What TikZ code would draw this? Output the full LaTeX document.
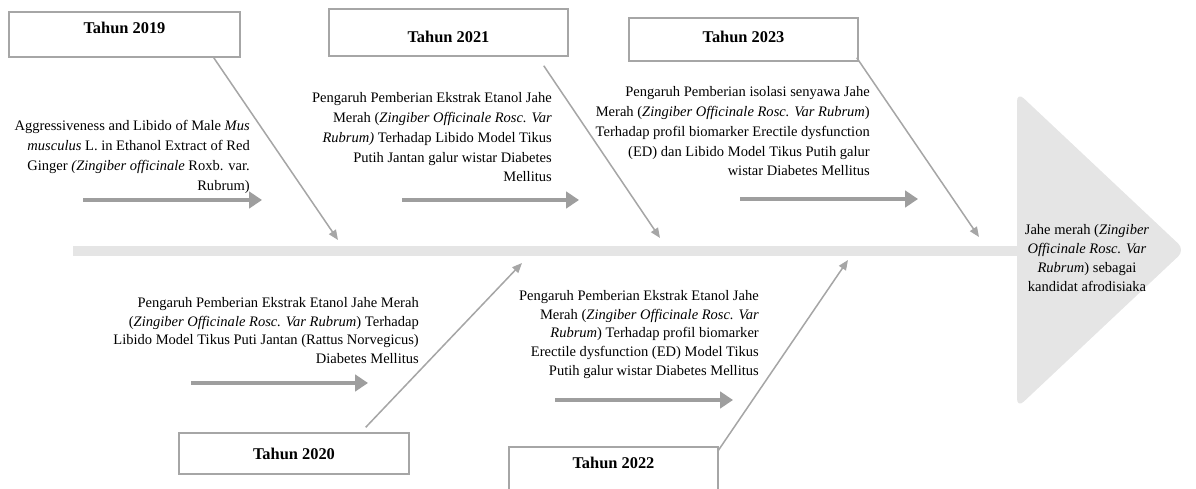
\documentclass[tikz,border=0pt]{standalone}
\usepackage{fontspec}
\setmainfont{Liberation Serif}
\usetikzlibrary{arrows.meta, calc}

\begin{document}
\begin{tikzpicture}[x=0.03cm, y=-0.03cm,
    every node/.style={font=\fontsize{12.4}{16}\selectfont},
    yearbox/.style 2 args={draw=black!35, line width=1.2pt, fill=white,
      minimum width=#1cm, minimum height=#2cm, inner sep=0pt,
      font=\fontsize{14}{16}\selectfont\bfseries},
    note/.style={align=right, anchor=north east, inner sep=0pt},
    wide/.style={font=\fontsize{12.4}{17}\selectfont},
    bone/.style={draw=black!35, line width=1.3pt,
      -{Triangle[length=8.5pt,width=7pt]}},
    flow/.style={draw=black!38, line width=4.2pt,
      -{Triangle[length=11pt,width=14pt]}},
  ]
  \useasboundingbox (0,0) rectangle (1196,489);

  % spine and head
  \fill[gray!20] (73,246) rectangle (1020,256);
  \fill[gray!20, rounded corners=8] (1017,92) -- (1185,250) -- (1017,408) -- cycle;
  \node[align=center, inner sep=0pt] (goal) at (1087,258)
    {Jahe merah (\textit{Zingiber}\\ \textit{Officinale Rosc. Var}\\
     \textit{Rubrum}) sebagai\\ kandidat afrodisiaka};

  % years
  \node[yearbox={6.93}{1.35}, text depth=0.39cm] (y19) at (124.5,34.5) {Tahun 2019};
  \node[yearbox={7.17}{1.41}, text height=0.6cm] (y21) at (448.5,32.5) {Tahun 2021};
  \node[yearbox={6.87}{1.29}, text depth=0.15cm] (y23) at (743.5,39.5) {Tahun 2023};
  \node[yearbox={6.90}{1.23}] (y20) at (294,453.5) {Tahun 2020};
  \node[yearbox={6.27}{1.35}, text depth=0.39cm] (y22) at (613.5,469.5) {Tahun 2022};

  % studies
  \node[note, wide] (s19) at (250,120)
    {Aggressiveness and Libido of Male \textit{Mus}\\
     \textit{musculus} L. in Ethanol Extract of Red\\
     Ginger \textit{(Zingiber officinale} Roxb. var.\\ Rubrum)};
  \node[note, wide] (s21) at (552,92)
    {Pengaruh Pemberian Ekstrak Etanol Jahe\\
     Merah (\textit{Zingiber Officinale Rosc. Var}\\
     \textit{Rubrum)} Terhadap Libido Model Tikus\\
     Putih Jantan galur wistar Diabetes\\ Mellitus};
  \node[note, wide] (s23) at (870,86)
    {Pengaruh Pemberian isolasi senyawa Jahe\\
     Merah (\textit{Zingiber Officinale Rosc. Var Rubrum})\\
     Terhadap profil biomarker Erectile dysfunction\\
     (ED) dan Libido Model Tikus Putih galur\\ wistar Diabetes Mellitus};
  \node[note] (s20) at (419,297)
    {Pengaruh Pemberian Ekstrak Etanol Jahe Merah\\
     (\textit{Zingiber Officinale Rosc. Var Rubrum}) Terhadap\\
     Libido Model Tikus Puti Jantan (Rattus Norvegicus)\\ Diabetes Mellitus};
  \node[note] (s22) at (759,290)
    {Pengaruh Pemberian Ekstrak Etanol Jahe\\
     Merah (\textit{Zingiber Officinale Rosc. Var}\\
     \textit{Rubrum}) Terhadap profil biomarker\\
     Erectile dysfunction (ED) Model Tikus\\ Putih galur wistar Diabetes Mellitus};

  % where the bones meet the spine
  \coordinate (b19) at (338,240);
  \coordinate (b21) at (660,238);
  \coordinate (b23) at (979,237);
  \coordinate (b20) at (522,263);
  \coordinate (b22) at (848,260);

  \draw[bone] ($(y19.south east)+(-27,0)$) -- (b19);
  \draw[bone] ($(y21.south east)+(-25,9)$) -- (b21);
  \draw[bone] ($(y23.south east)+(-2,-4)$) -- (b23);
  \draw[bone] ($(y20.north east)+(-44,-5)$) -- (b20);
  \draw[bone] ($(y22.north east)+(-1,5)$) -- (b22);

  \draw[flow] (83,200) -- (262,200);
  \draw[flow] (402,200) -- (579,200);
  \draw[flow] (740,199) -- (918,199);
  \draw[flow] (191,383) -- (368,383);
  \draw[flow] (555,400) -- (733,400);
\end{tikzpicture}
\end{document}
